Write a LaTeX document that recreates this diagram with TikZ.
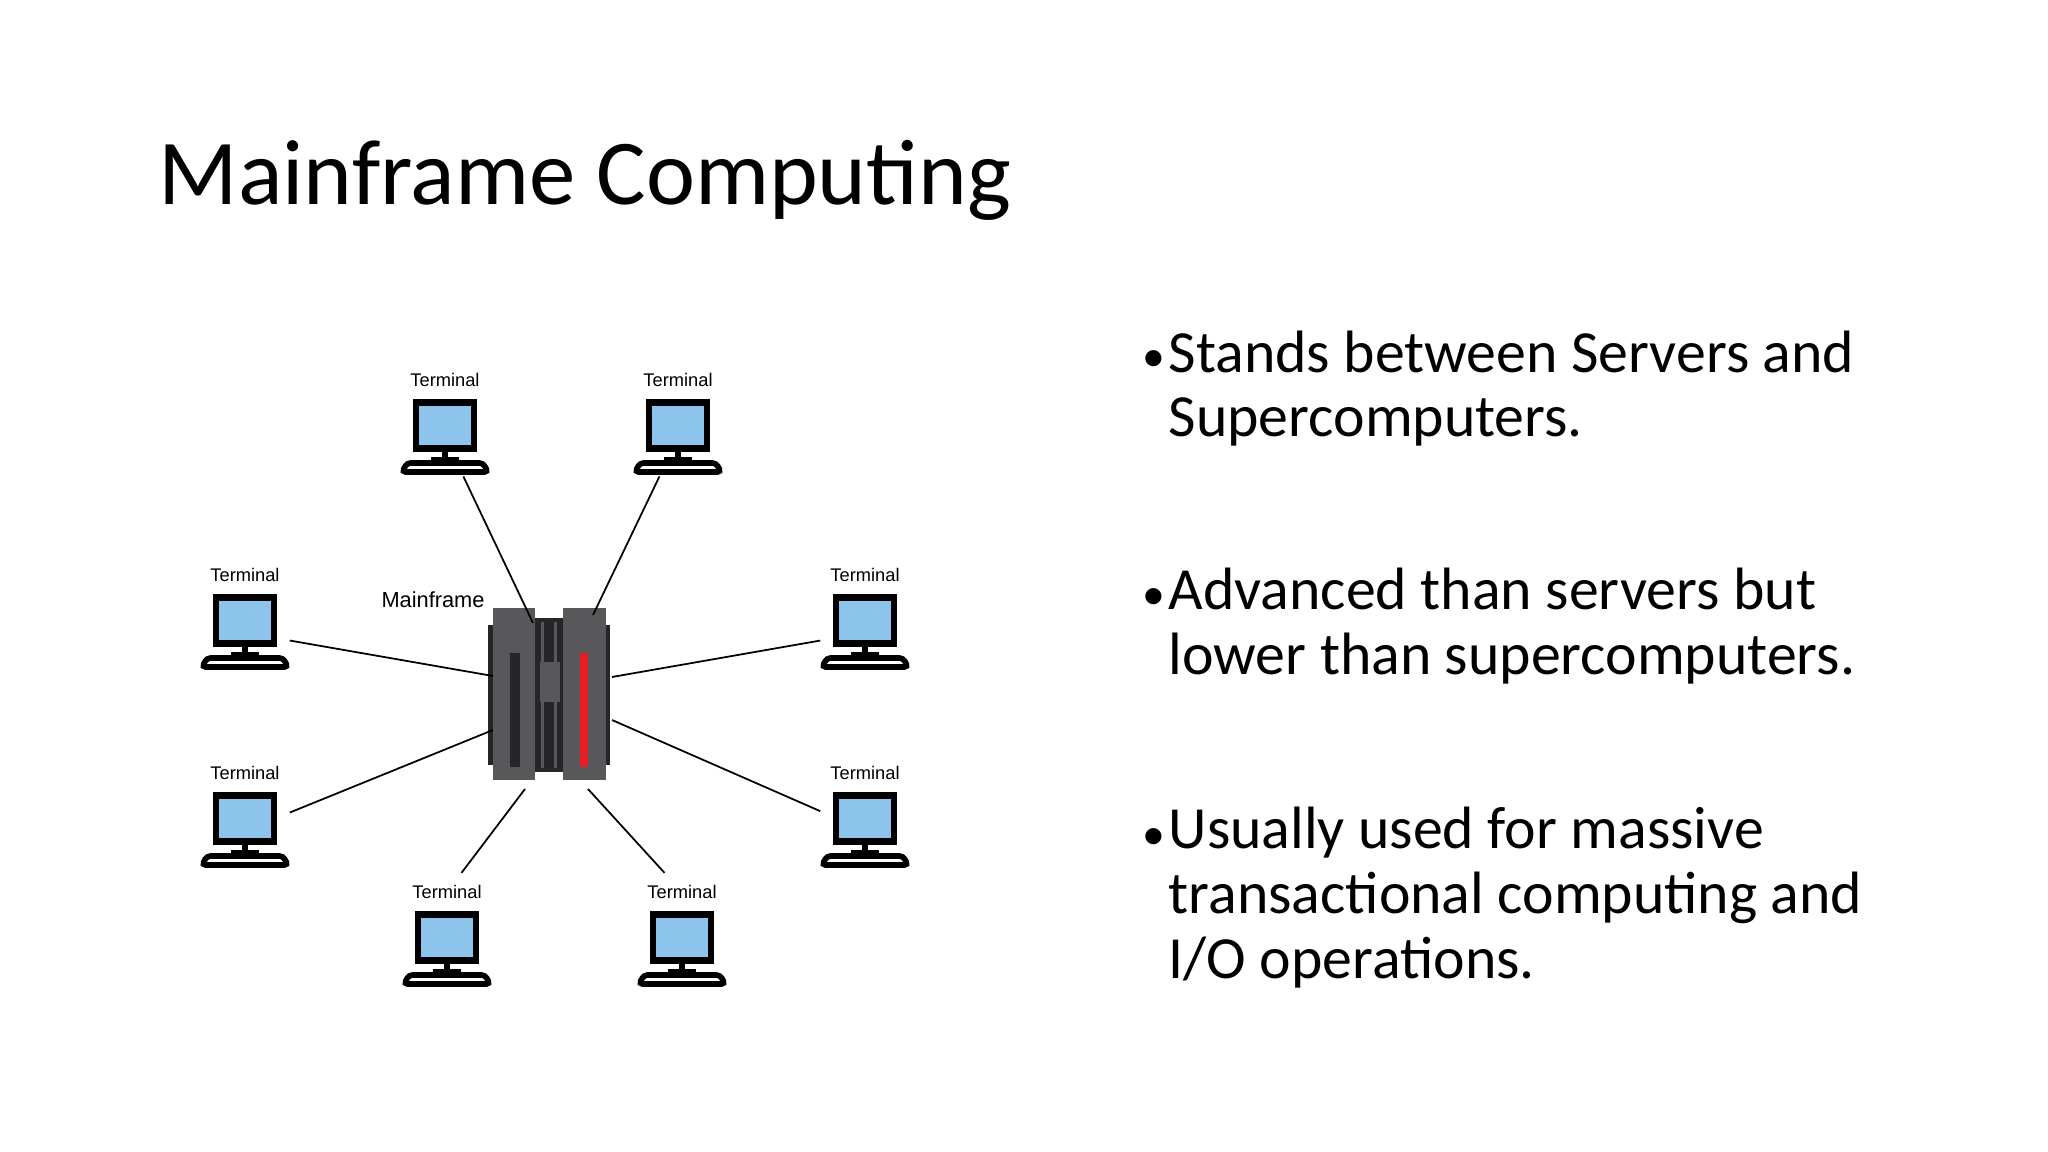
\documentclass[tikz,border=0pt]{standalone}
\usepackage{fontspec}
\setmainfont{Carlito}
\newfontfamily\labelfont{Liberation Sans}
\usetikzlibrary{positioning}
\definecolor{screenblue}{RGB}{140,196,236}
\definecolor{cabgray}{RGB}{88,88,90}
\definecolor{cabdark}{RGB}{38,38,40}
\definecolor{stripered}{RGB}{230,30,36}

% one terminal: node name, top centre x, top y
\newcommand{\termicon}[3]{%
  \node[term] (#1) at (#2,#3) {};
  \fill[black] ([shift={(-32,0)}]#1.north) rectangle ([shift={(32,53)}]#1.north);
  \fill[screenblue] ([shift={(-26,7)}]#1.north) rectangle ([shift={(26,46)}]#1.north);
  \fill[black] ([shift={(-3,53)}]#1.north) rectangle ([shift={(3,58)}]#1.north);
  \fill[black] ([shift={(-14,58)}]#1.north) rectangle ([shift={(14,63)}]#1.north);
  \draw[black,line width=1.6pt,fill=white,rounded corners=1pt]
    ([shift={(-38,64)}]#1.north) -- ([shift={(38,64)}]#1.north)
    -- ([shift={(43,73)}]#1.north) -- ([shift={(-43,73)}]#1.north) -- cycle;
  \node[termlabel] (#1-lab) at ([shift={(0,-19)}]#1.north) {Terminal};
}

\tikzset{
  term/.style={anchor=north,minimum width=0.88cm,minimum height=0.76cm,inner sep=0pt},
  termlabel/.style={font=\labelfont\fontsize{5.2}{6}\selectfont},
  link/.style={black,line width=0.5pt},
  bullet/.style={anchor=base west,align=left,inner sep=0pt,
    font=\fontsize{17}{18.4}\selectfont}
}

\begin{document}
\begin{tikzpicture}[x=0.01cm,y=-0.01cm]
  \useasboundingbox[fill=white] (0,0) rectangle (2048,1152);

  \node[anchor=base west,inner sep=0pt,font=\fontsize{26.4}{30}\selectfont] (title) at (158,205) {Mainframe Computing};

  % mainframe
  \fill[cabdark] (488,625) rectangle (540,765);
  \fill[cabdark] (559,625) rectangle (610,765);
  \fill[cabdark] (535,618) rectangle (563,772);
  \fill[cabgray] (541,622) rectangle (544,768);
  \fill[cabgray] (554,622) rectangle (557,768);
  \fill[cabgray] (540,662) rectangle (560,702);
  \fill[cabgray] (493,608) rectangle (535,780);
  \fill[cabgray] (563,608) rectangle (606,780);
  \fill[cabdark] (510,653) rectangle (520,767);
  \fill[stripered] (580,653) rectangle (588,767);
  \node[termlabel,font=\labelfont\fontsize{6.2}{7}\selectfont] (mflabel) at (433,600) {Mainframe};

  \coordinate (mtl) at (533,623);
  \coordinate (mtr) at (593,615);
  \coordinate (mml) at (493,676);
  \coordinate (mmr) at (612,677);
  \coordinate (mll) at (493,730);
  \coordinate (mlr) at (612,720);
  \coordinate (mbl) at (525,789);
  \coordinate (mbr) at (588,789);

  % terminals
  \termicon{t1}{445}{399}
  \termicon{t2}{678}{399}
  \termicon{t3}{245}{594}
  \termicon{t4}{865}{594}
  \termicon{t5}{245}{792}
  \termicon{t6}{865}{792}
  \termicon{t7}{447}{911}
  \termicon{t8}{682}{911}

  \draw[link] (t1) -- (mtl);
  \draw[link] (t2) -- (mtr);
  \draw[link] (t3) -- (mml);
  \draw[link] (t4) -- (mmr);
  \draw[link] (t5) -- (mll);
  \draw[link] (t6) -- (mlr);
  \draw[link] (t7-lab) -- (mbl);
  \draw[link] (t8-lab) -- (mbr);

  % bullets
  \foreach \y/\n in {372/1,610/2,849/3}
    \node[bullet,font=\fontsize{13}{14}\selectfont] (dot\n) at (1142,\y) {\textbullet};
  \node[bullet] (b1) at (1168,437) {Stands between Servers and\\Supercomputers.};
  \node[bullet] (b2) at (1168,674) {Advanced than servers but\\lower than supercomputers.};
  \node[bullet] (b3) at (1168,978) {Usually used for massive\\transactional computing and\\I/O operations.};
\end{tikzpicture}
\end{document}
